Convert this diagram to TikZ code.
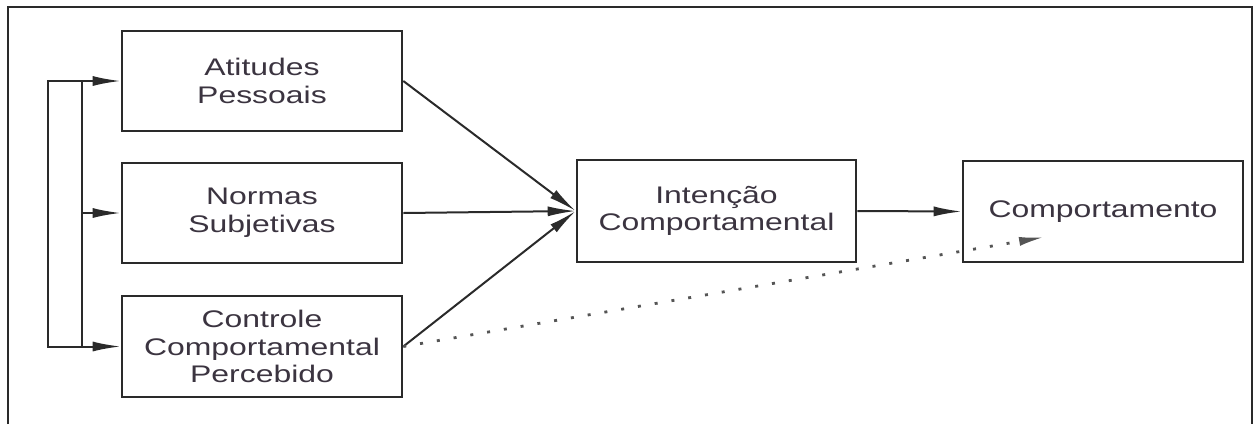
\documentclass[tikz,border=0pt]{standalone}
\usepackage{fontspec}
\setmainfont{Liberation Sans}[FakeStretch=1.33]
\usetikzlibrary{arrows.meta}
\definecolor{lc}{HTML}{2A2A2A}
\definecolor{tc}{HTML}{3B3440}
\definecolor{dc}{HTML}{555555}
\begin{document}
\begin{tikzpicture}[x=0.5pt,y=-0.5pt,
  box/.style={draw=lc, line width=1.3pt, rectangle, inner sep=0pt, align=center, text=tc,
    minimum width=140pt, minimum height=50pt, font=\fontsize{12pt}{13.8pt}\selectfont},
  arr/.style={draw=lc, line width=1pt, -{Latex[length=14pt,width=5pt]}},
  dotarr/.style={draw=dc, line width=1.4pt, dash pattern=on 1.5pt off 7pt, -{Latex[length=13pt,width=4.5pt]}},
  plain/.style={draw=lc, line width=1pt}
  ]
\useasboundingbox (0,0) rectangle (1254,424);
\draw[plain] (8,424) -- (8,7) -- (1252,7) -- (1252,424);

\node[box] (att) at (262,81) {Atitudes\\Pessoais};
\node[box] (nor) at (262,213) {Normas\\Subjetivas};
\node[box, minimum height=50.5pt] (ctl) at (262,346.5) {Controle\\Comportamental\\Percebido};
\node[box, minimum width=139.5pt, minimum height=51pt] (int) at (716.5,211) {Intenção\\Comportamental};
\node[box, minimum height=50.5pt] (cmp) at (1103,211.5) {Comportamento};

\coordinate (lt) at (48,81);
\coordinate (lb) at (48,346.5);
\coordinate (it) at (82,81);
\coordinate (im) at (82,213);
\coordinate (ib) at (82,346.5);
\coordinate (dotend) at (1045,237);

\draw[plain] (it) -- (lt) -- (lb) -- (ib);
\draw[plain] (it) -- (ib);
\draw[arr] (it) -- (att.west);
\draw[arr] (im) -- (nor.west);
\draw[arr] (ib) -- (ctl.west);

\draw[arr] (att.east) -- (int.west);
\draw[arr] (nor.east) -- (int.west);
\draw[arr] (ctl.east) -- (int.west);
\draw[arr] (int.east) -- (cmp.west);
\draw[dotarr] (ctl.east) -- (dotend);
\end{tikzpicture}
\end{document}
